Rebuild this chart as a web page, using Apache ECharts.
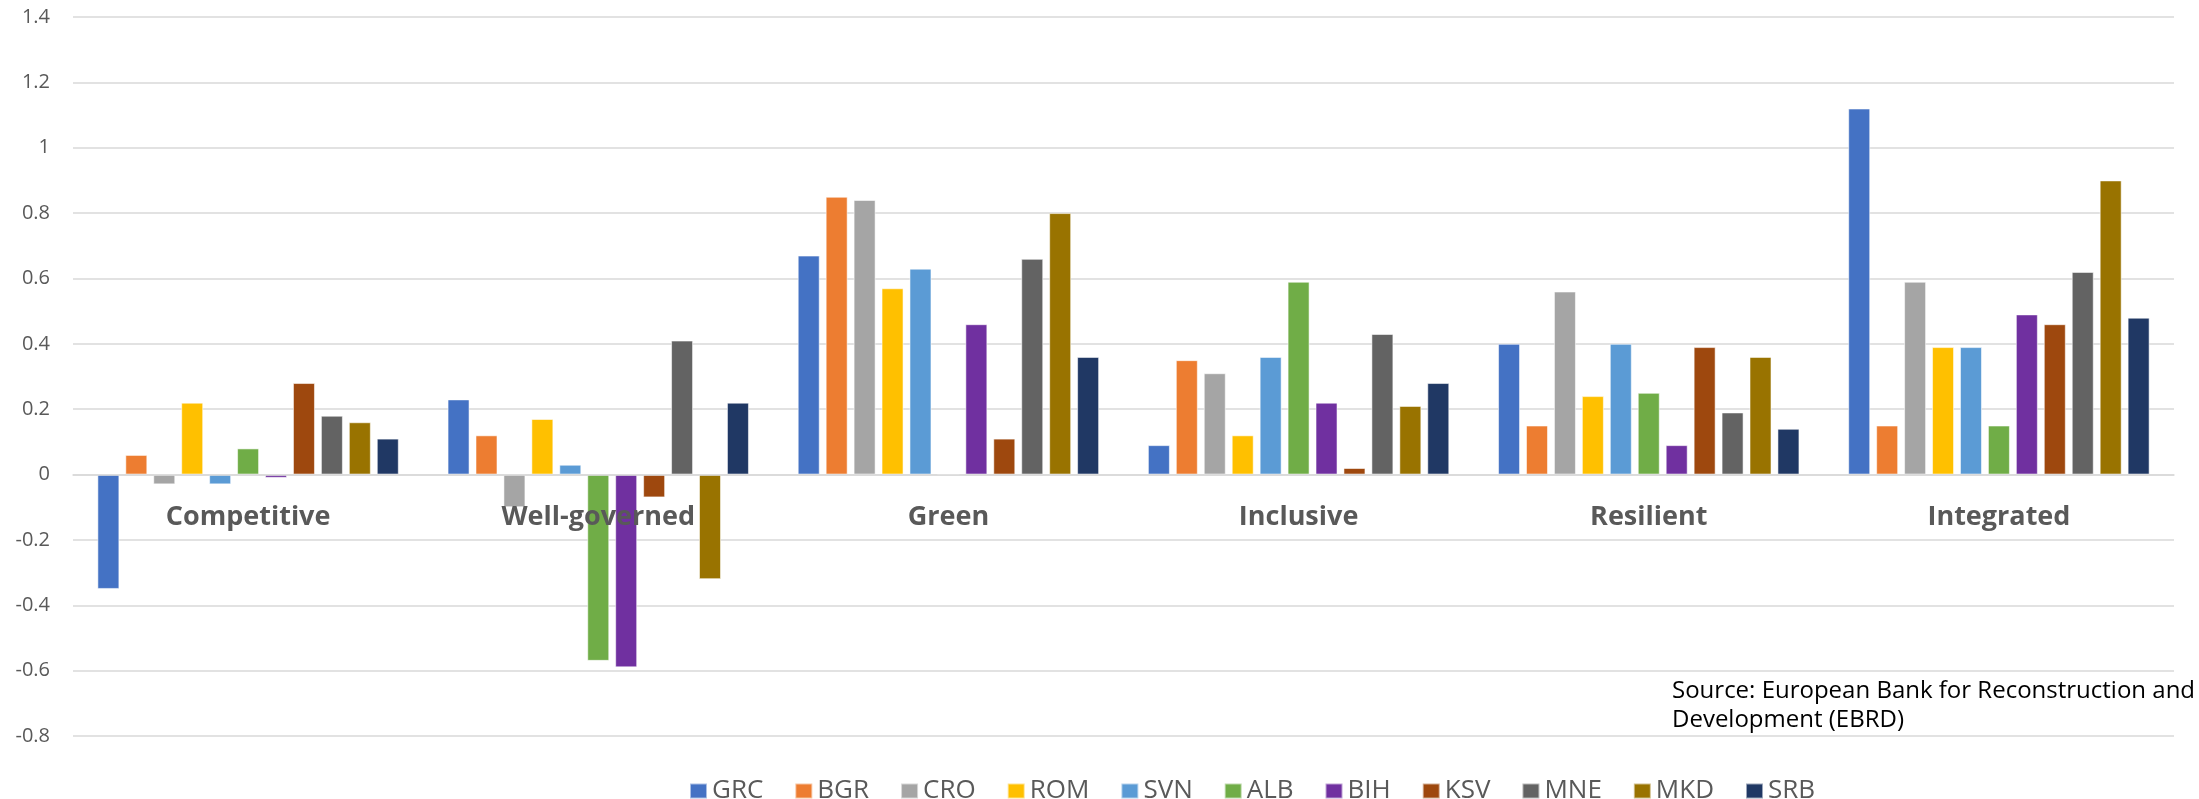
<!DOCTYPE html>
<html>
<head>
<meta charset="utf-8">
<title>EBRD transition qualities</title>
<script src="https://cdn.jsdelivr.net/npm/echarts@6/dist/echarts.min.js"></script>
<style>
  html, body { margin: 0; padding: 0; background: #ffffff; }
  #chart { width: 2199px; height: 799px; }
</style>
</head>
<body>
<div id="chart"></div>
<script>
// Transition quality dimensions (category axis)
const categories = ['Competitive', 'Well-governed', 'Green', 'Inclusive', 'Resilient', 'Integrated'];

// Country codes, in legend order
const countries = ['GRC', 'BGR', 'CRO', 'ROM', 'SVN', 'ALB', 'BIH', 'KSV', 'MNE', 'MKD', 'SRB'];

// Scores per country, one value per dimension
const GRC = [-0.35, 0.23, 0.67, 0.09, 0.40, 1.12];
const BGR = [0.06, 0.12, 0.85, 0.35, 0.15, 0.15];
const CRO = [-0.03, -0.10, 0.84, 0.31, 0.56, 0.59];
const ROM = [0.22, 0.17, 0.57, 0.12, 0.24, 0.39];
const SVN = [-0.03, 0.03, 0.63, 0.36, 0.40, 0.39];
const ALB = [0.08, -0.57, 0, 0.59, 0.25, 0.15];
const BIH = [-0.01, -0.59, 0.46, 0.22, 0.09, 0.49];
const KSV = [0.28, -0.07, 0.11, 0.02, 0.39, 0.46];
const MNE = [0.18, 0.41, 0.66, 0.43, 0.19, 0.62];
const MKD = [0.16, -0.32, 0.80, 0.21, 0.36, 0.90];
const SRB = [0.11, 0.22, 0.36, 0.28, 0.14, 0.48];

// Value axis tick labels
const valueTicks = [-0.8, -0.6, -0.4, -0.2, 0, 0.2, 0.4, 0.6, 0.8, 1, 1.2, 1.4];

const seriesValues = [GRC, BGR, CRO, ROM, SVN, ALB, BIH, KSV, MNE, MKD, SRB];
const palette = ['#4472C4', '#ED7D31', '#A5A5A5', '#FFC000', '#5B9BD5', '#70AD47',
                 '#7030A0', '#9E480E', '#636363', '#997300', '#203864'];

const chart = echarts.init(document.getElementById('chart'), null, { renderer: 'canvas' });

const series = countries.map((name, i) => ({
  name: name,
  type: 'bar',
  data: seriesValues[i],
  barWidth: 22,
  barGap: '27%',
  itemStyle: {
    color: palette[i],
    borderColor: 'rgba(255,255,255,0.55)',
    borderWidth: 1
  },
  emphasis: { disabled: true }
}));

chart.setOption({
  animation: false,
  backgroundColor: '#ffffff',
  color: palette,
  grid: { left: 73, right: 25, top: 17, bottom: 63, containLabel: false },
  legend: {
    data: countries,
    orient: 'horizontal',
    left: 684,
    top: 773,
    itemWidth: 17,
    itemHeight: 15,
    itemGap: 31,
    icon: 'rect',
    textStyle: { fontFamily: 'Open Sans', fontSize: 26, color: '#595959' }
  },
  xAxis: {
    type: 'category',
    data: categories,
    position: 'bottom',
    z: 10,
    axisLine: { onZero: false, lineStyle: { color: '#d9d9d9', width: 1.5 } },
    axisTick: { show: false },
    axisLabel: {
      margin: 29,
      fontFamily: 'Open Sans',
      fontWeight: 'bold',
      fontSize: 27,
      color: '#595959'
    },
    splitLine: { show: false }
  },
  yAxis: {
    type: 'value',
    min: valueTicks[0],
    max: valueTicks[valueTicks.length - 1],
    interval: +(valueTicks[1] - valueTicks[0]).toFixed(2),
    axisLine: { show: false },
    axisTick: { show: false },
    axisLabel: {
      margin: 23,
      fontFamily: 'Open Sans',
      fontSize: 20,
      color: '#595959',
      formatter: v => String(parseFloat(v.toFixed(1)))
    },
    splitLine: { lineStyle: { color: '#d9d9d9', width: 1.5 } }
  },
  graphic: [{
    type: 'text',
    left: 1672,
    top: 677,
    z: 20,
    style: {
      text: 'Source: European Bank for Reconstruction and\nDevelopment (EBRD)',
      fontFamily: 'Open Sans',
      fontSize: 24,
      lineHeight: 29,
      fill: '#000000'
    }
  }],
  series: series
});

// Lift the category axis (line and labels) up to the zero value
const zeroY = chart.convertToPixel({ yAxisIndex: 0 }, 0);
const bottomY = chart.convertToPixel({ yAxisIndex: 0 }, valueTicks[0]);
chart.setOption({ xAxis: { offset: -(bottomY - zeroY) } });
</script>
</body>
</html>
